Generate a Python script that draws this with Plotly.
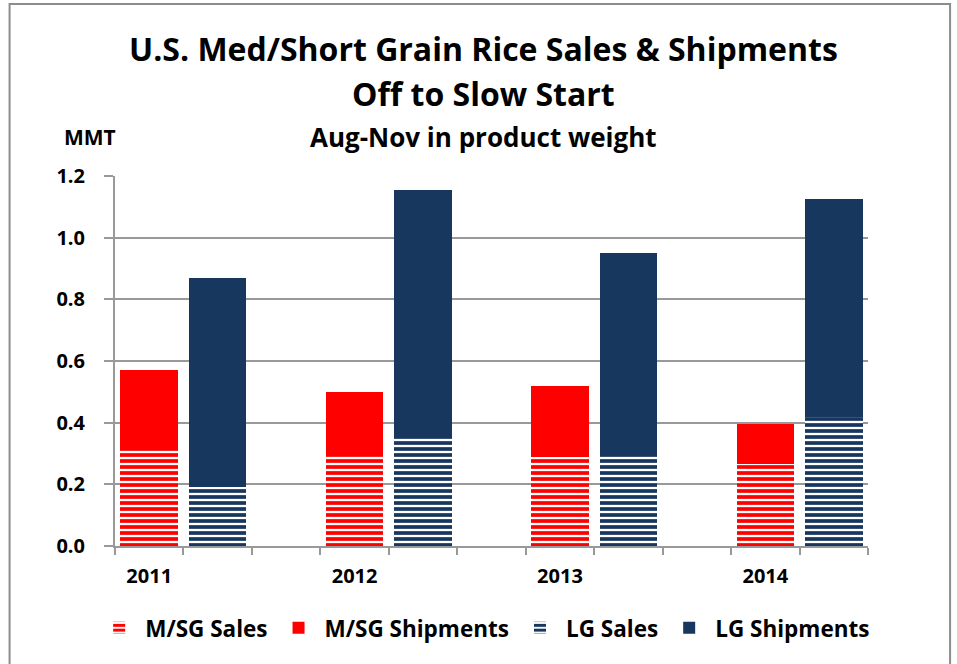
import plotly.graph_objects as go

years = ["2011", "2012", "2013", "2014"]
msg_sales = [0.31, 0.295, 0.29, 0.265]
msg_ship = [0.26, 0.205, 0.23, 0.13]
lg_sales = [0.19, 0.355, 0.295, 0.42]
lg_ship = [0.68, 0.80, 0.655, 0.705]

# category slots: M/SG bar (labelled with year), LG bar, gap
msg_cats = years
lg_cats = [" " * (2 * i + 1) for i in range(4)]
gap_cats = [" " * (2 * i + 2) for i in range(3)]
all_cats = []
for i in range(4):
    all_cats += [msg_cats[i], lg_cats[i]]
    if i < 3:
        all_cats.append(gap_cats[i])

RED = "#FF0000"
NAVY = "#17375E"
FONT = "Open Sans"
GRID = "#999999"

fig = go.Figure()
fig.add_trace(go.Bar(
    name="M/SG Sales", x=msg_cats, y=msg_sales,
    marker=dict(color=RED, line=dict(width=0),
                pattern=dict(shape="-", fillmode="replace", fgcolor=RED,
                             bgcolor="white", size=6, solidity=0.62)),
))
fig.add_trace(go.Bar(
    name="M/SG Shipments", x=msg_cats, y=msg_ship,
    marker=dict(color=RED, line=dict(width=0)),
))
fig.add_trace(go.Bar(
    name="LG Sales", x=lg_cats, y=lg_sales,
    marker=dict(color=NAVY, line=dict(width=0),
                pattern=dict(shape="-", fillmode="replace", fgcolor=NAVY,
                             bgcolor="white", size=6, solidity=0.62)),
))
fig.add_trace(go.Bar(
    name="LG Shipments", x=lg_cats, y=lg_ship,
    marker=dict(color=NAVY, line=dict(width=0)),
))

fig.update_layout(
    width=957, height=664,
    barmode="stack", bargap=0.16,
    plot_bgcolor="white", paper_bgcolor="white",
    margin=dict(l=115, r=89, t=176, b=118),
    font=dict(family=FONT, color="black"),
    showlegend=True,
    legend=dict(orientation="h", x=-0.029, y=-0.222, xanchor="left", yanchor="middle",
                traceorder="normal",
                font=dict(family=FONT, size=22.5, color="black", weight="bold"),
                itemwidth=42),
    annotations=[
        dict(text="<b>U.S. Med/Short Grain Rice Sales & Shipments</b>", xref="paper", yref="paper",
             x=0.489, y=1.345, showarrow=False, font=dict(size=32, family=FONT), xanchor="center", yanchor="middle"),
        dict(text="<b>Off to Slow Start</b>", xref="paper", yref="paper",
             x=0.489, y=1.224, showarrow=False, font=dict(size=32, family=FONT), xanchor="center", yanchor="middle"),
        dict(text="<b>Aug-Nov in product weight</b>", xref="paper", yref="paper",
             x=0.49, y=1.105, showarrow=False, font=dict(size=26, family=FONT), xanchor="center", yanchor="middle"),
        dict(text="<b>MMT</b>", xref="paper", yref="paper",
             x=-0.033, y=1.105, showarrow=False, font=dict(size=21, family=FONT), xanchor="center", yanchor="middle"),
    ],
    shapes=[dict(type="rect", xref="paper", yref="paper",
                 x0=-0.140, x1=1.109, y0=-0.35, y1=1.465,
                 line=dict(color="#8c8c8c", width=2), fillcolor="rgba(0,0,0,0)", layer="below")],
)
fig.update_xaxes(
    type="category", categoryorder="array", categoryarray=all_cats,
    tickson="boundaries", ticks="outside", ticklen=7, tickcolor=GRID, tickwidth=2,
    showline=True, linecolor=GRID, linewidth=2, showgrid=False,
    ticklabelstandoff=11,
    tickfont=dict(size=20, family=FONT, color="black", weight="bold"),
)
fig.update_yaxes(
    range=[0, 1.2], dtick=0.2, tickformat=".1f",
    showgrid=True, gridcolor=GRID, gridwidth=2,
    ticks="outside", ticklen=9, tickcolor=GRID, tickwidth=2,
    showline=True, linecolor=GRID, linewidth=2, zeroline=False,
    ticklabelstandoff=15,
    tickfont=dict(size=20, family=FONT, color="black", weight="bold"),
)

fig.write_html("out.html", config={"displayModeBar": False},
               post_script="document.body.style.margin='0';")
